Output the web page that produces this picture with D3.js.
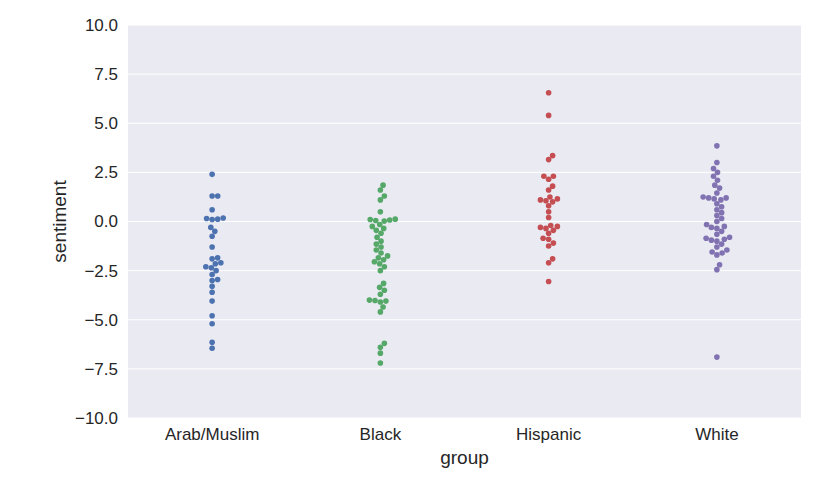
<!DOCTYPE html>
<html><head><meta charset="utf-8">
<script src="https://cdn.jsdelivr.net/npm/d3@7"></script>
<style>body{margin:0;background:#fff}text{font-family:"Liberation Sans",Arial,sans-serif}</style>
</head><body><svg id="c" width="827" height="479"></svg>
<script>
const categories = ["Arab/Muslim", "Black", "Hispanic", "White"];
const arabMuslim = [2.4, 1.3, 1.3, 0.6, 0.12, 0.15, 0.18, 0.1, -0.3, -0.5, -0.75, -1.3, -1.85, -1.9, -2.1, -2.15, -2.3, -2.35, -2.5, -2.7, -2.95, -3.0, -3.3, -3.6, -4.05, -4.8, -5.2, -6.15, -6.45];
const black = [1.85, 1.6, 1.3, 1.1, 0.5, 0.1, 0.05, 0.08, 0.12, 0.02, -0.15, -0.25, -0.35, -0.45, -0.6, -0.8, -1.0, -1.15, -1.3, -1.45, -1.6, -1.75, -1.85, -1.95, -2.05, -2.15, -2.3, -2.5, -3.15, -3.35, -3.5, -3.7, -4.0, -4.02, -4.05, -4.1, -4.35, -4.6, -6.2, -6.4, -6.7, -7.2];
const hispanic = [6.55, 5.4, 3.35, 3.15, 2.3, 2.3, 2.15, 1.8, 1.6, 1.25, 1.15, 1.1, 1.05, 1.0, 0.8, 0.5, 0.2, -0.2, -0.25, -0.3, -0.35, -0.45, -0.6, -0.85, -0.9, -1.1, -1.25, -1.9, -2.1, -3.05];
const white = [3.85, 3.0, 2.7, 2.5, 2.3, 2.1, 1.85, 1.7, 1.45, 1.25, 1.2, 1.15, 1.1, 1.2, 0.9, 0.75, 0.6, 0.45, 0.3, 0.15, 0.0, -0.15, -0.25, -0.3, -0.35, -0.5, -0.65, -0.8, -0.85, -0.9, -0.95, -1.0, -1.15, -1.3, -1.45, -1.55, -1.6, -1.7, -2.2, -2.45, -6.9];
const seriesValues = [arabMuslim, black, hispanic, white];
const colors = ["#4C72B0", "#55A868", "#C44E52", "#8172B2"];
const yTicks = [-10, -7.5, -5, -2.5, 0, 2.5, 5, 7.5, 10];

const svg = d3.select("#c");
const m = {l:128, r:801, t:25, b:418};
const x = d3.scaleBand().domain(categories).range([m.l, m.r]);
const y = d3.scaleLinear().domain([-10, 10]).range([m.b, m.t]);

svg.append("rect").attr("x", m.l).attr("y", m.t).attr("width", m.r - m.l).attr("height", m.b - m.t).attr("fill", "#EAEAF2");
svg.append("g").selectAll("line").data(yTicks).join("line")
  .attr("x1", m.l).attr("x2", m.r).attr("y1", d => y(d)).attr("y2", d => y(d))
  .attr("stroke", "#fff").attr("stroke-width", 1);

const yAxis = d3.axisLeft(y).tickValues(yTicks).tickFormat(d => d3.format(".1f")(d).replace("-", "\u2212")).tickSize(0).tickPadding(10);
const gy = svg.append("g").attr("transform", `translate(${m.l},0)`).call(yAxis);
gy.select(".domain").remove();
gy.selectAll("text").attr("font-size", 17).attr("fill", "#262626");

const xAxis = d3.axisBottom(x).tickSize(0).tickPadding(10);
const gx = svg.append("g").attr("transform", `translate(0,${m.b})`).call(xAxis);
gx.select(".domain").remove();
gx.selectAll("text").attr("font-size", 17).attr("fill", "#262626");

svg.append("text").attr("x", (m.l + m.r) / 2).attr("y", 464).attr("text-anchor", "middle").attr("font-size", 19).attr("fill", "#262626").text("group");
svg.append("text").attr("transform", `translate(66,${(m.t + m.b) / 2}) rotate(-90)`).attr("text-anchor", "middle").attr("font-size", 19).attr("fill", "#262626").text("sentiment");

const r = 2.8;
function swarm(vals) {
  const pts = vals.map(v => ({v, py: y(v)})).sort((a, b) => a.v - b.v);
  const placed = [];
  const d = 2 * r;
  for (const p of pts) {
    const near = placed.filter(q => Math.abs(q.py - p.py) < d);
    const cands = [0];
    for (const q of near) {
      const dx = Math.sqrt(d * d - (q.py - p.py) ** 2);
      cands.push(q.dx + dx, q.dx - dx);
    }
    cands.sort((a, b) => Math.abs(a) - Math.abs(b));
    let best = 0;
    for (const c of cands) {
      if (near.every(q => (q.dx - c) ** 2 + (q.py - p.py) ** 2 >= d * d - 0.01)) { best = c; break; }
    }
    p.dx = best;
    placed.push(p);
  }
  return placed;
}

categories.forEach((cat, i) => {
  const pts = swarm(seriesValues[i]);
  const cx = x(cat) + x.bandwidth() / 2;
  svg.append("g").selectAll("circle").data(pts).join("circle")
    .attr("cx", p => cx + p.dx).attr("cy", p => p.py).attr("r", r)
    .attr("fill", colors[i]);
});
</script></body></html>
